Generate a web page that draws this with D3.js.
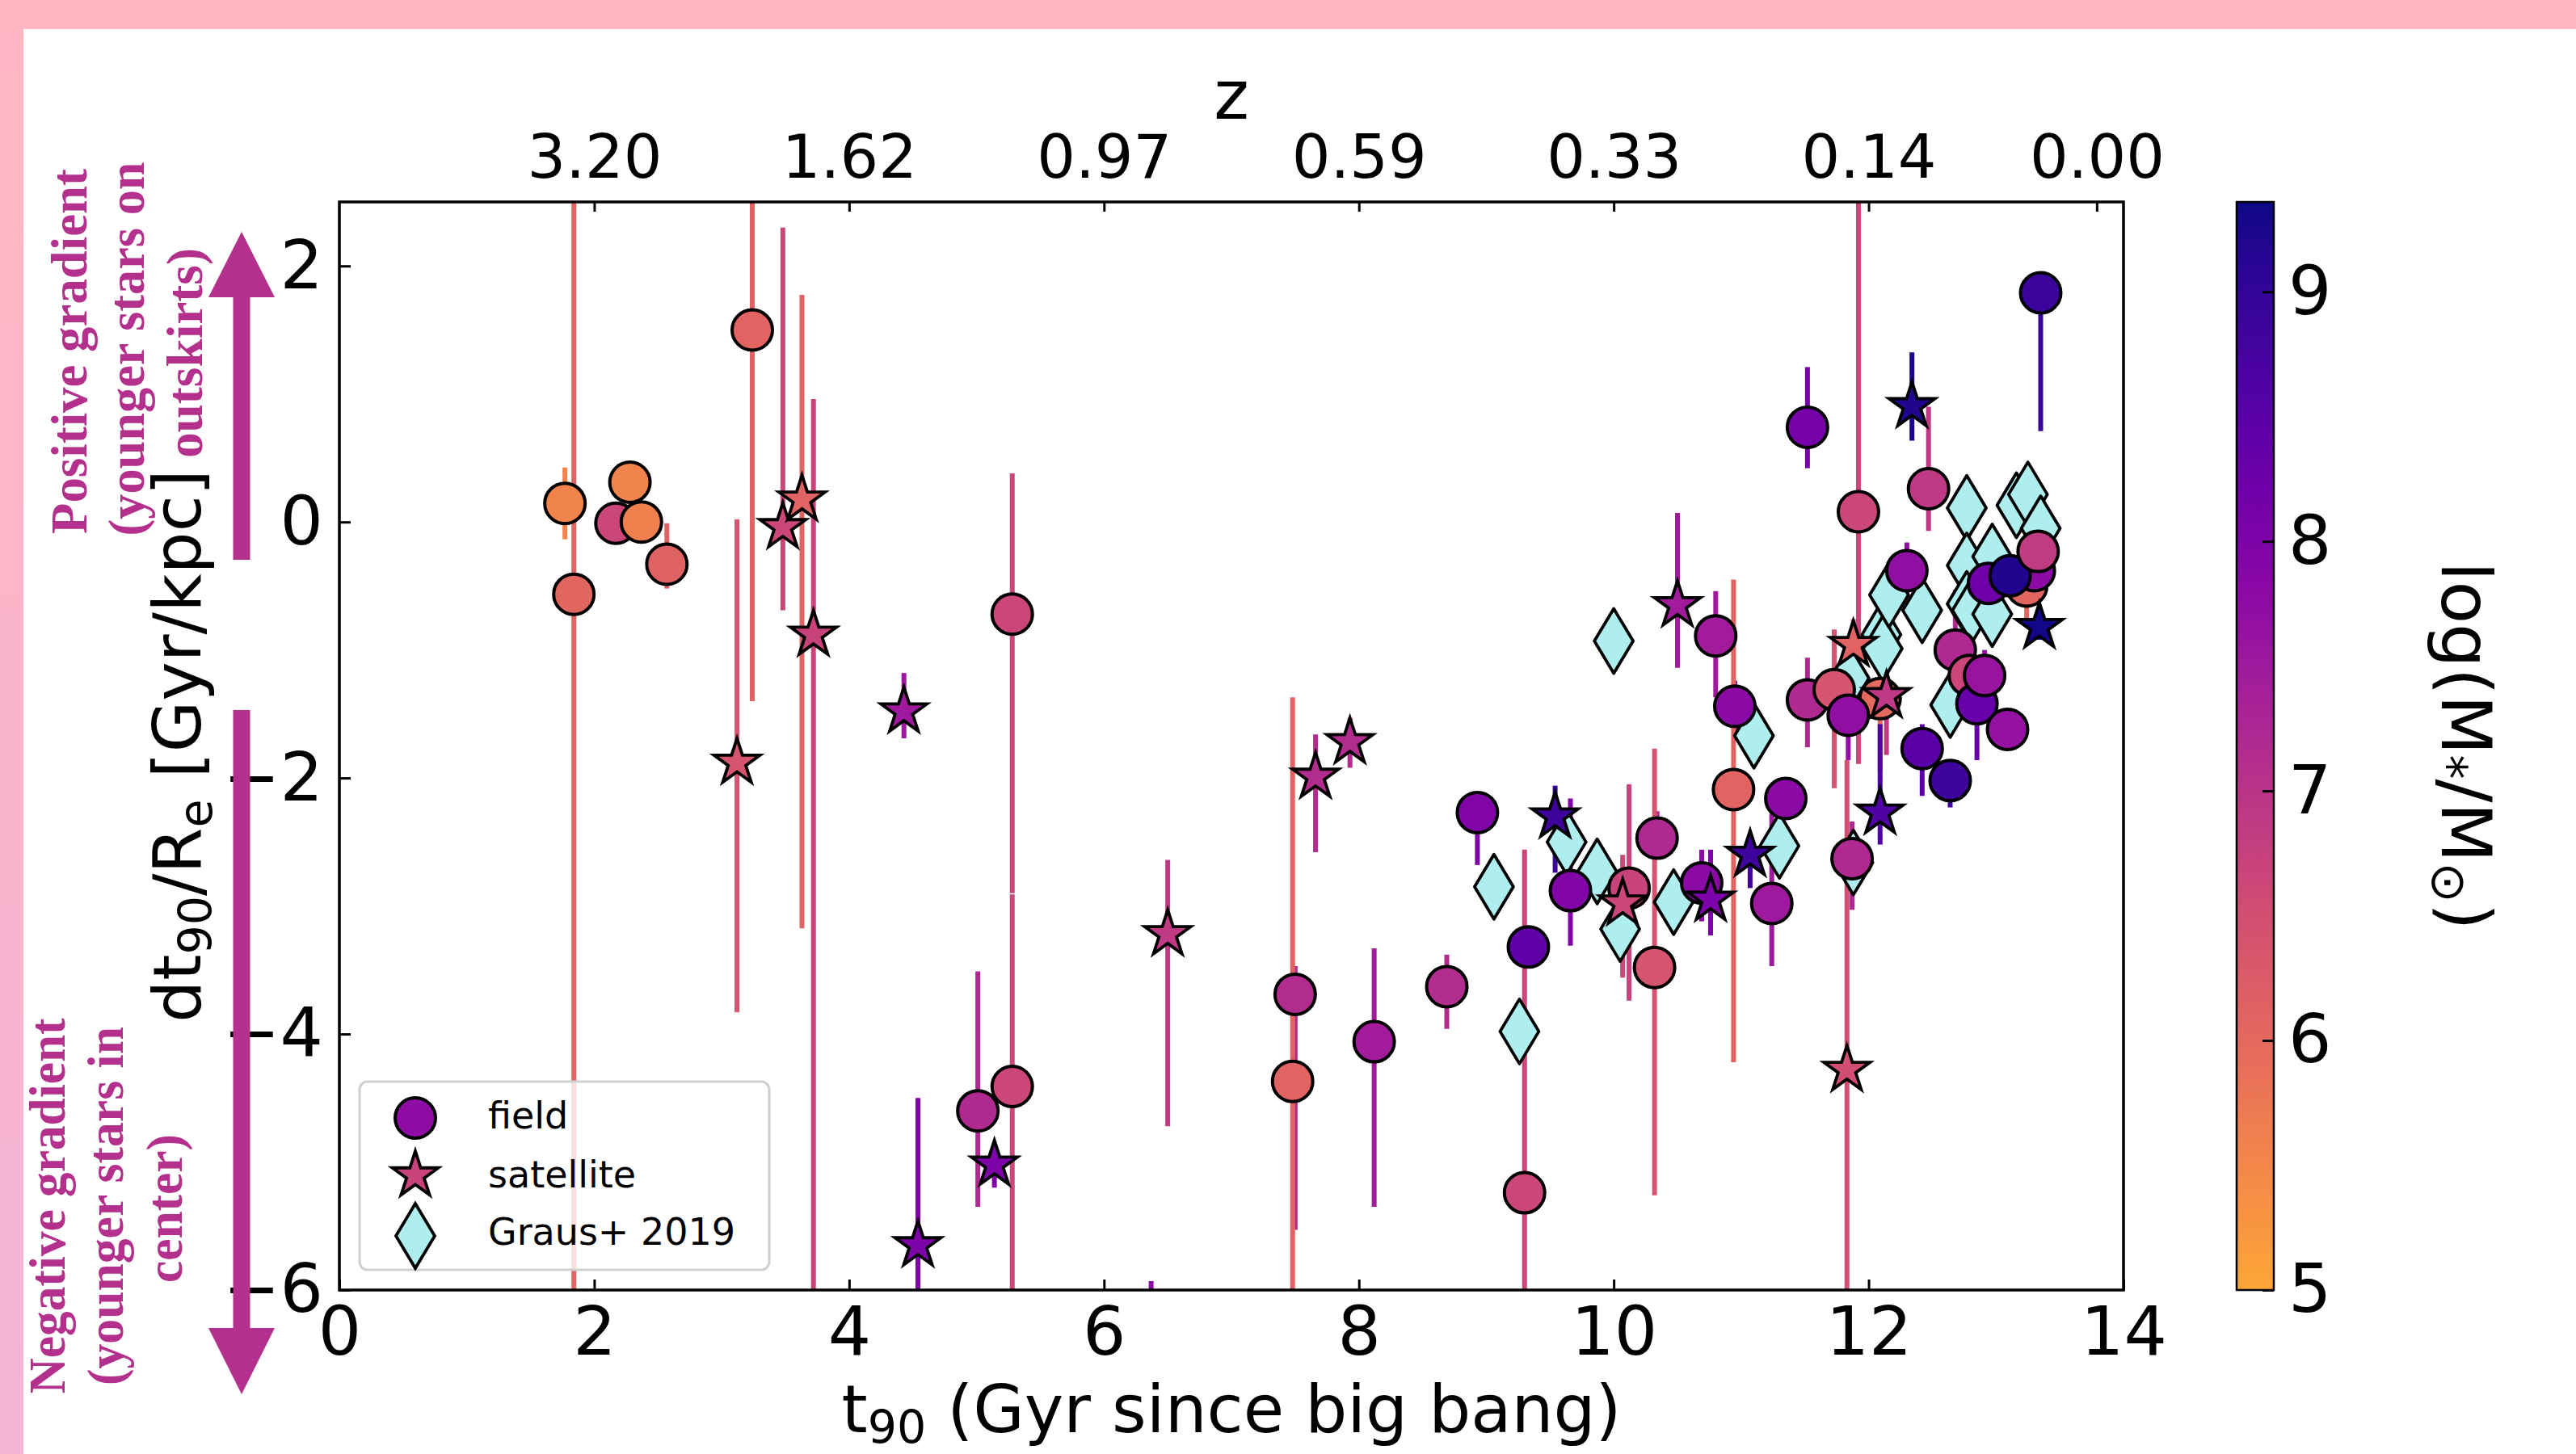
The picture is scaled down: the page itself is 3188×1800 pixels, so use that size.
<!DOCTYPE html>
<html>
<head>
<meta charset="utf-8">
<script src="https://cdn.jsdelivr.net/npm/d3@7"></script>
<style>
body { margin: 0; background: #fff; }
</style>
</head>
<body>
<script>
// ---- data ----
// field galaxies: t90 (Gyr), gradient, log stellar mass, lower / upper error
var fieldT    = [1.77, 1.84, 2.28, 2.17, 2.37, 2.57, 3.24, 5.28, 5.01, 5.28, 7.50, 7.48, 8.12, 8.69, 8.93, 9.33, 9.30, 9.66, 10.12, 10.34, 10.32, 10.69, 10.80, 10.95, 10.94, 11.35, 11.24, 11.52, 11.52, 11.73, 12.09, 11.84, 11.92, 11.87, 12.30, 12.47, 12.42, 12.64, 12.68, 12.79, 12.85, 12.91, 13.09, 13.24, 13.30, 12.94, 13.11, 13.33, 13.35];
var fieldDt   = [0.145, -0.565, 0.31, -0.01, 0.0, -0.33, 1.50, -0.72, -4.60, -4.41, -3.69, -4.37, -4.06, -3.63, -2.27, -3.32, -5.24, -2.88, -2.86, -2.47, -3.48, -2.82, -0.89, -1.44, -2.09, -2.16, -2.98, 0.74, -1.39, -1.31, -1.38, -1.51, 0.08, -2.63, -0.38, 0.26, -1.77, -2.02, -1.0, -1.20, -1.42, -1.20, -1.62, -0.50, -0.38, -0.48, -0.42, -0.23, 1.79];
var fieldMass = [5.55, 6.05, 5.55, 6.65, 5.6, 6.15, 6.1, 6.65, 7.2, 6.65, 7.15, 6.1, 7.45, 7.15, 7.95, 8.4, 6.65, 7.95, 6.7, 7.2, 6.4, 7.8, 7.45, 7.8, 6.1, 7.8, 7.5, 8.1, 7.2, 6.4, 6.0, 7.7, 6.65, 7.2, 7.7, 6.9, 8.5, 8.85, 7.2, 6.65, 8.3, 7.6, 7.65, 6.05, 7.8, 8.2, 9.2, 6.85, 8.9];
var fieldErrLo = [0.28, 6.0, 0.1, 0.1, 0.1, 0.19, 2.9, 2.18, 0.75, 1.6, 1.84, 2.0, 1.29, 0.33, 0.41, 0.1, 1.0, 0.43, 0.88, 0.1, 1.78, 0.3, 0.48, 0.2, 2.13, 0.1, 0.49, 0.32, 0.37, 0.77, 0.57, 0.35, 1.97, 0.4, 0.2, 0.33, 0.37, 0.21, 0.2, 0.2, 0.44, 0.2, 0.1, 0.26, 0.1, 0.1, 0.1, 0.1, 1.08];
var fieldErrHi = [0.28, 3.5, 0.1, 0.1, 0.1, 0.32, 1.5, 1.1, 1.09, 1.5, 0.22, 3.0, 0.73, 0.25, 0.1, 0.1, 2.68, 0.72, 0.81, 0.21, 1.71, 0.26, 0.35, 0.2, 1.64, 0.1, 0.7, 0.47, 0.33, 0.47, 0.2, 0.2, 3.0, 0.29, 0.22, 0.64, 0.19, 0.15, 0.47, 0.2, 0.1, 0.2, 0.1, 0.1, 0.1, 0.1, 0.1, 0.1, 0.0];

// satellite galaxies
var satT    = [3.12, 3.48, 3.63, 3.72, 4.43, 4.54, 5.14, 6.37, 6.50, 7.66, 7.93, 9.54, 10.07, 10.50, 10.76, 11.07, 11.83, 11.88, 12.14, 12.09, 12.34, 13.34];
var satDt   = [-1.88, -0.04, 0.175, -0.88, -1.48, -5.65, -5.02, -6.45, -3.22, -1.99, -1.72, -2.30, -2.98, -0.65, -2.95, -2.60, -4.28, -0.96, -1.36, -2.27, 0.905, -0.82];
var satMass = [6.4, 6.65, 6.1, 6.7, 7.5, 8.0, 8.0, 7.8, 6.9, 7.15, 7.15, 8.85, 6.65, 7.45, 8.0, 8.85, 6.5, 6.1, 6.9, 8.6, 9.2, 9.3];
var satErrLo = [1.95, 0.65, 3.35, 5.3, 0.21, 1.0, 0.18, 0.1, 1.5, 0.59, 0.2, 0.44, 0.58, 0.49, 0.28, 0.26, 2.0, 0.2, 0.46, 0.25, 0.27, 0.1];
var satErrHi = [1.9, 2.34, 1.6, 1.84, 0.3, 1.15, 0.15, 0.52, 0.58, 0.33, 0.19, 0.24, 0.38, 0.72, 0.39, 0.1, 2.42, 0.2, 0.2, 0.69, 0.42, 0.05];

// Graus+ 2019
var grausT  = [9.06, 9.26, 9.63, 9.87, 10.0, 10.05, 10.47, 11.10, 11.30, 11.85, 11.88, 12.10, 12.11, 12.16, 12.42, 12.64, 12.77, 12.77, 12.77, 12.81, 12.97, 12.97, 13.16, 13.25, 13.35];
var grausDt = [-2.85, -3.98, -2.50, -2.73, -0.93, -3.18, -2.97, -1.67, -2.53, -1.22, -2.66, -0.88, -0.99, -0.57, -0.69, -1.43, 0.11, -0.34, -0.64, -0.69, -0.27, -0.72, 0.13, 0.215, -0.05];

var xTicks = [0, 2, 4, 6, 8, 10, 12, 14];
var yTicks = [-6, -4, -2, 0, 2];
var zTickT = [2, 4, 6, 8, 10, 12, 13.79];
var zTickLabels = ["3.20", "1.62", "0.97", "0.59", "0.33", "0.14", "0.00"];
var cbarTicks = [5, 6, 7, 8, 9];
var massRange = [5, 9.36];

// ---- layout ----
var W = 3188, H = 1800;
var plot = {left: 420, right: 2628, top: 250, bottom: 1597};
var cbar = {left: 2768, right: 2814};
var font = "DejaVu Sans, sans-serif";
var accent = "#b3308c";

var svg = d3.select("body").append("svg")
    .attr("width", W)
    .attr("height", H);

var defs = svg.append("defs");

// pink frame on top and left
var side = defs.append("linearGradient").attr("id", "side")
    .attr("x1", 0).attr("y1", 0).attr("x2", 0).attr("y2", 1);
side.append("stop").attr("offset", 0).attr("stop-color", "#ffb6c1");
side.append("stop").attr("offset", 1).attr("stop-color", "#f3b4d6");

svg.append("rect").attr("width", W).attr("height", H).attr("fill", "#fff");
svg.append("rect").attr("width", 29).attr("height", H).attr("fill", "url(#side)");
svg.append("rect").attr("width", W).attr("height", 36).attr("fill", "#ffb6c1");

// scales
var x = d3.scaleLinear().domain([0, 14]).range([plot.left, plot.right]);
var y = d3.scaleLinear().domain([-6, 2.5]).range([plot.bottom, plot.top]);
var cy = d3.scaleLinear().domain(massRange).range([plot.bottom, plot.top]);

// truncated, reversed plasma
function massColor(m) {
    var f = (massRange[1] - m) / (massRange[1] - massRange[0]);
    f = Math.max(0, Math.min(1, f));
    return d3.interpolatePlasma(0.8 * f);
}

defs.append("clipPath").attr("id", "plotClip")
  .append("rect")
    .attr("x", plot.left).attr("y", plot.top)
    .attr("width", plot.right - plot.left)
    .attr("height", plot.bottom - plot.top);

function starPath(R) {
    var pts = [];
    for (var k = 0; k < 10; k++) {
        var a = -Math.PI / 2 + k * Math.PI / 5;
        var r = k % 2 ? R * 0.382 : R;
        pts.push([r * Math.cos(a), r * Math.sin(a)]);
    }
    return "M" + pts.join("L") + "Z";
}
var diamondPath = "M0,-40L24,0L0,40L-24,0Z";
var circleR = 25;
var starD = starPath(30);

// rows
var field = fieldT.map(function(t, i) {
    return {t: t, v: fieldDt[i], m: fieldMass[i], lo: fieldErrLo[i], hi: fieldErrHi[i]};
});
var sats = satT.map(function(t, i) {
    return {t: t, v: satDt[i], m: satMass[i], lo: satErrLo[i], hi: satErrHi[i]};
});
var graus = grausT.map(function(t, i) { return {t: t, v: grausDt[i]}; });

var chart = svg.append("g").attr("clip-path", "url(#plotClip)");

// error bars
chart.append("g").selectAll("line")
    .data(field.concat(sats))
    .enter()
    .append("line")
    .attr("x1", function(d) { return x(d.t); })
    .attr("x2", function(d) { return x(d.t); })
    .attr("y1", function(d) { return y(d.v + d.hi); })
    .attr("y2", function(d) { return y(d.v - d.lo); })
    .attr("stroke", function(d) { return massColor(d.m); })
    .attr("stroke-width", 6);

// Graus+ 2019 diamonds
chart.append("g").selectAll("path")
    .data(graus)
    .enter()
    .append("path")
    .attr("d", diamondPath)
    .attr("transform", function(d) { return "translate(" + x(d.t) + "," + y(d.v) + ")"; })
    .attr("fill", "#afeeee")
    .attr("stroke", "#000")
    .attr("stroke-width", 3.8)
    .attr("stroke-linejoin", "round");

// field circles
chart.append("g").selectAll("circle")
    .data(field)
    .enter()
    .append("circle")
    .attr("cx", function(d) { return x(d.t); })
    .attr("cy", function(d) { return y(d.v); })
    .attr("r", circleR)
    .attr("fill", function(d) { return massColor(d.m); })
    .attr("stroke", "#000")
    .attr("stroke-width", 4);

// satellite stars
chart.append("g").selectAll("path")
    .data(sats)
    .enter()
    .append("path")
    .attr("d", starD)
    .attr("transform", function(d) { return "translate(" + x(d.t) + "," + y(d.v) + ")"; })
    .attr("fill", function(d) { return massColor(d.m); })
    .attr("stroke", "#000")
    .attr("stroke-width", 3.8)
    .attr("stroke-linejoin", "miter");

// axes (ticks inward)
function styleAxis(g, size) {
    g.select(".domain").remove();
    g.selectAll(".tick line").attr("stroke", "#000").attr("stroke-width", 3);
    g.selectAll(".tick text").attr("font-family", font).attr("font-size", size).attr("fill", "#000");
}

svg.append("g")
    .attr("transform", "translate(0," + plot.bottom + ")")
    .call(d3.axisBottom(x).tickValues(xTicks).tickSize(-13).tickPadding(20).tickFormat(d3.format("d")))
    .call(styleAxis, 84);

svg.append("g")
    .attr("transform", "translate(" + plot.left + ",0)")
    .call(d3.axisLeft(y).tickValues(yTicks).tickSize(-14).tickPadding(20)
        .tickFormat(function(d) { return d < 0 ? "\u2212" + Math.abs(d) : d; }))
    .call(styleAxis, 84);

svg.append("g")
    .attr("transform", "translate(0," + plot.top + ")")
    .call(d3.axisTop(x).tickValues(zTickT).tickSize(-12).tickPadding(30)
        .tickFormat(function(d, i) { return zTickLabels[i]; }))
    .call(styleAxis, 75);

// frame
svg.append("rect")
    .attr("x", plot.left).attr("y", plot.top)
    .attr("width", plot.right - plot.left)
    .attr("height", plot.bottom - plot.top)
    .attr("fill", "none")
    .attr("stroke", "#000")
    .attr("stroke-width", 3.5);

// axis titles
var xl = svg.append("text")
    .attr("x", (plot.left + plot.right) / 2)
    .attr("y", 1773)
    .attr("text-anchor", "middle")
    .attr("font-family", font)
    .attr("font-size", 82);
xl.append("tspan").text("t");
xl.append("tspan").attr("font-size", 57).attr("dy", 14).text("90");
xl.append("tspan").attr("dy", -14).text(" (Gyr since big bang)");

var yl = svg.append("text")
    .attr("transform", "translate(248," + (plot.top + plot.bottom) / 2 + ") rotate(-90)")
    .attr("text-anchor", "middle")
    .attr("font-family", font)
    .attr("font-size", 82);
yl.append("tspan").text("dt");
yl.append("tspan").attr("font-size", 57).attr("dy", 14).text("90");
yl.append("tspan").attr("dy", -14).text("/R");
yl.append("tspan").attr("font-size", 57).attr("dy", 14).text("e");
yl.append("tspan").attr("dy", -14).text(" [Gyr/kpc]");

svg.append("text")
    .attr("x", (plot.left + plot.right) / 2)
    .attr("y", 147)
    .attr("text-anchor", "middle")
    .attr("font-family", font)
    .attr("font-size", 83)
    .text("z");

// legend
var leg = svg.append("g");
leg.append("rect")
    .attr("x", 445).attr("y", 1339)
    .attr("width", 507).attr("height", 233)
    .attr("rx", 10)
    .attr("fill", "#fff").attr("fill-opacity", 0.8)
    .attr("stroke", "#d0d0d0").attr("stroke-width", 3);
leg.append("circle").attr("cx", 514).attr("cy", 1384).attr("r", circleR)
    .attr("fill", massColor(7.75)).attr("stroke", "#000").attr("stroke-width", 4);
leg.append("path").attr("d", starD).attr("transform", "translate(514,1455)")
    .attr("fill", massColor(6.7)).attr("stroke", "#000").attr("stroke-width", 3.8);
leg.append("path").attr("d", diamondPath).attr("transform", "translate(514,1530)")
    .attr("fill", "#afeeee").attr("stroke", "#000").attr("stroke-width", 3.8);
[["field", 1397], ["satellite", 1470], ["Graus+ 2019", 1541]].forEach(function(e) {
    leg.append("text").attr("x", 604).attr("y", e[1])
        .attr("font-family", font).attr("font-size", 46).text(e[0]);
});

// colorbar
var grad = defs.append("linearGradient").attr("id", "cbar")
    .attr("x1", 0).attr("y1", 1).attr("x2", 0).attr("y2", 0);
d3.range(0, 51).forEach(function(i) {
    var m = massRange[0] + i / 50 * (massRange[1] - massRange[0]);
    grad.append("stop").attr("offset", i / 50).attr("stop-color", massColor(m));
});
svg.append("rect")
    .attr("x", cbar.left).attr("y", plot.top)
    .attr("width", cbar.right - cbar.left)
    .attr("height", plot.bottom - plot.top)
    .attr("fill", "url(#cbar)")
    .attr("stroke", "#000").attr("stroke-width", 2.5);
svg.append("g")
    .attr("transform", "translate(" + cbar.right + ",0)")
    .call(d3.axisRight(cy).tickValues(cbarTicks).tickSize(-14).tickPadding(18).tickFormat(d3.format("d")))
    .call(styleAxis, 84);

var cl = svg.append("text")
    .attr("transform", "translate(3022," + (plot.top + plot.bottom) / 2 + ") rotate(90)")
    .attr("text-anchor", "middle")
    .attr("font-family", font)
    .attr("font-size", 86);
cl.append("tspan").text("log(M");
cl.append("tspan").attr("font-size", 60).attr("dy", 12).text("*");
cl.append("tspan").attr("dy", -12).text("/M");
cl.append("tspan").attr("font-size", 60).attr("dy", 12).text("\u2299");
cl.append("tspan").attr("dy", -12).text(")");

// gradient annotations on the left
svg.append("path")
    .attr("d", "M288.5,693L288.5,368L258,368L299,287L340,368L309.5,368L309.5,693Z")
    .attr("fill", accent);
svg.append("path")
    .attr("d", "M288.5,879L309.5,879L309.5,1644L340,1644L299,1726L258,1644L288.5,1644Z")
    .attr("fill", accent);

var notes = [
    ["Positive gradient", 107, 435, 452],
    ["(younger stars on", 178, 432, 463],
    ["outskirts)", 250, 437, 260],
    ["Negative gradient", 80, 1493, 465],
    ["(younger stars in", 152, 1493, 444],
    ["center)", 225, 1496, 184]
];
notes.forEach(function(n) {
    svg.append("text")
        .attr("transform", "translate(" + n[1] + "," + n[2] + ") rotate(-90)")
        .attr("text-anchor", "middle")
        .attr("font-family", "Liberation Serif, serif")
        .attr("font-weight", "bold")
        .attr("font-size", 63)
        .attr("fill", accent)
        .attr("textLength", n[3])
        .attr("lengthAdjust", "spacingAndGlyphs")
        .text(n[0]);
});
</script>
</body>
</html>
